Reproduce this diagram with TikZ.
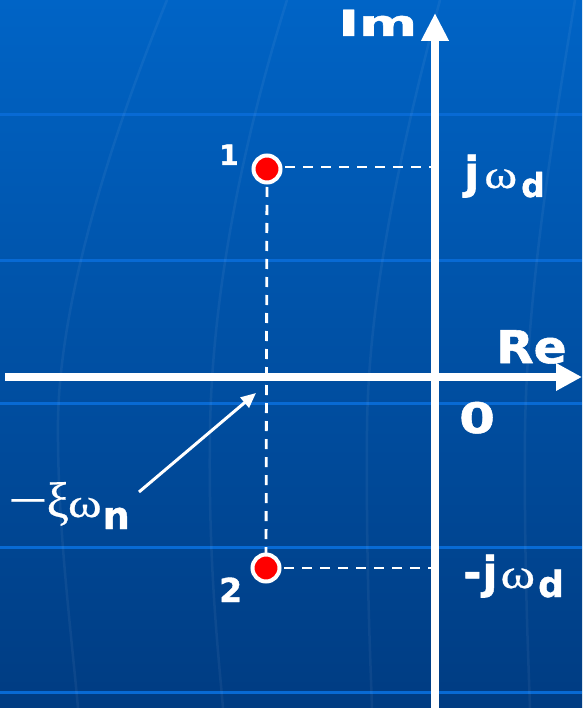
\documentclass[tikz,border=0pt]{standalone}
\usepackage{fontspec}
\setmainfont{DejaVu Sans}[BoldFeatures={FakeBold=1.2}]
\newfontfamily\grk{Liberation Serif}[FakeBold=0.5]
\usetikzlibrary{arrows.meta}
\definecolor{bgtop}{RGB}{0,100,198}
\definecolor{bgbot}{RGB}{0,60,130}
\definecolor{gridc}{RGB}{8,106,212}
\newcommand{\fs}[1]{\fontsize{#1}{#1}\selectfont}
\newcommand{\om}[1]{{\grk\mdseries\fs{#1}\scalebox{1.25}[1]{ω}}}
\begin{document}
\begin{tikzpicture}[x=1pt,y=-1pt,
  axisline/.style={white,line width=8pt},
  guide/.style={white,line width=2.8pt,dash pattern=on 10pt off 8pt},
  pole/.style={circle,fill=red,draw=white,line width=4pt,minimum size=27pt,inner sep=0pt},
  lbl/.style={white,inner sep=0pt,font=\bfseries},
  gridh/.style={gridc,line width=3pt},
  gridv/.style={white,opacity=0.05,line width=2.5pt}]
\useasboundingbox (0,0) rectangle (582,708);
\fill[top color=bgtop,bottom color=bgbot] (0,0) rectangle (582,708);
% background grid
\foreach \yy in {115,260,403,547,692} \draw[gridh] (0,\yy) -- (582,\yy);
\draw[gridv] (167,0) .. controls (110,140) and (60,300) .. (58,420) .. controls (57,520) and (70,620) .. (78,708);
\draw[gridv] (287,0) .. controls (240,150) and (212,300) .. (210,430) .. controls (208,560) and (218,650) .. (223,708);
\draw[gridv] (440,0) .. controls (400,150) and (368,300) .. (367,430) .. controls (366,560) and (370,650) .. (372,708);
\draw[gridv] (575,0) .. controls (550,150) and (527,300) .. (525,430) .. controls (524,560) and (528,650) .. (530,708);
% axes
\coordinate (xs) at (5,377);
\coordinate (xe) at (582,377);
\coordinate (ys) at (435,708);
\coordinate (ye) at (435,13);
\draw[axisline,-{Triangle[length=26pt,width=26pt]}] (xs) -- (xe);
\draw[axisline,-{Triangle[length=28pt,width=26pt]}] (ys) -- (ye);
% poles
\coordinate (p1c) at (267,169);
\coordinate (p2c) at (266,568);
\coordinate (h1) at (432,167);
\coordinate (h2) at (445,568);
\draw[guide] (p1c |- h1) -- (h1);
\draw[guide] (p2c) -- (h2);
\draw[guide] (p1c) -- (p2c);
\node[pole] (p1) at (p1c) {};
\node[pole] (p2) at (p2c) {};
% labels
\node[lbl,anchor=base west,xscale=1.55] (im) at (338,36) {\fs{36}Im};
\node[lbl,anchor=base west,xscale=1.08] (re) at (496,363) {\fs{45}Re};
\node[lbl,anchor=base west,xscale=1.22] (zero) at (459,433) {\fs{42}0};
\node[lbl,anchor=base west] (n1) at (219,165) {\fs{28}1};
\node[lbl,anchor=base west] (n2) at (219,602) {\fs{33}2};
\node[lbl,anchor=base west] (jwd) at (464,188) {\fs{44}j\hspace{5pt}\om{40}\hspace{4pt}\raisebox{-9pt}{\fs{33}d}};
\node[lbl,anchor=base west] (mjwd) at (463,588) {\fs{44}-\hspace{1pt}j\hspace{3pt}\om{42}\hspace{3pt}\raisebox{-9pt}{\fs{36}d}};
\node[lbl,anchor=base west] (xw) at (8,517) {{\grk\mdseries\fs{50}\scalebox{1.4}[1]{−}\hspace{-1pt}ξ}\hspace{-1pt}\om{41}\hspace{1pt}\raisebox{-12pt}{\fs{38}n}};
\coordinate (at) at (139,492);
\coordinate (ah) at (256,393);
\draw[white,line width=3pt,-{Triangle[length=15pt,width=13pt]}] (at) -- (ah);
\end{tikzpicture}
\end{document}
